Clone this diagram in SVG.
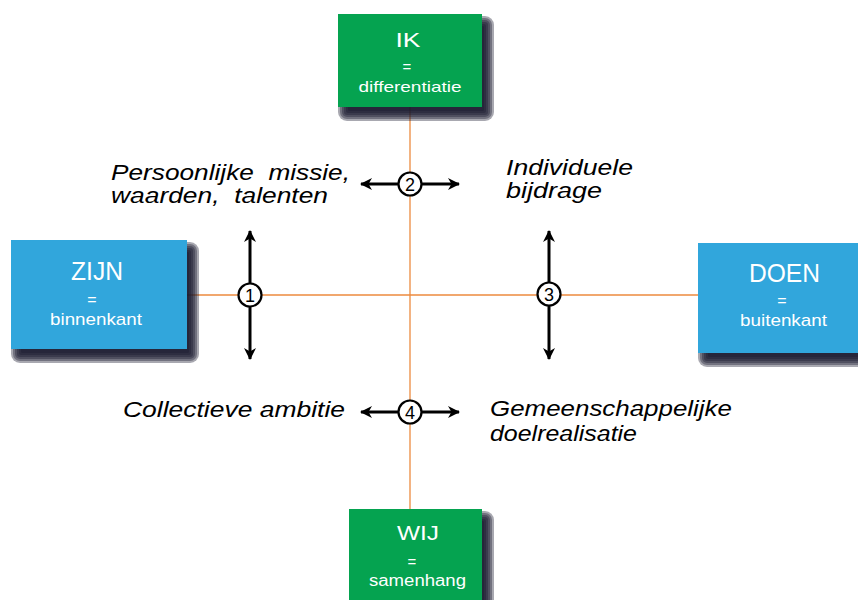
<svg xmlns="http://www.w3.org/2000/svg" width="858" height="600" viewBox="0 0 858 600">
  <defs>
    <marker id="head" viewBox="0 0 12 12" refX="11" refY="6" markerWidth="12" markerHeight="12" markerUnits="userSpaceOnUse" orient="auto-start-reverse">
      <path d="M12,6 L0,0 L3.5,6 L0,12 Z" fill="#000"/>
    </marker>
  </defs>
  <style>
    .green { fill: #05a350; }
    .blue { fill: #31a6dc; }
    .sh { fill: #1b1930; opacity: 0.38; }
    .axis { stroke: #ec8a3e; stroke-width: 1.3; fill: none; }
    .arrow { stroke: #000; stroke-width: 3; fill: none; marker-start: url(#head); marker-end: url(#head); }
    .num { fill: #fff; stroke: #000; stroke-width: 2.2; }
    .numt { font-family: "Liberation Sans", Arial, sans-serif; font-size: 18px; fill: #000; text-anchor: middle; }
    .big { font-family: "Liberation Sans", Arial, sans-serif; fill: #fff; text-anchor: middle; }
    .lbl { font-family: "Liberation Sans", Arial, sans-serif; font-style: italic; font-size: 21.5px; fill: #000; }
  </style>
  <rect width="858" height="600" fill="#fff"/>

  <g id="connectors">
    <line class="axis" x1="410" y1="107" x2="410" y2="509"/>
    <line class="axis" x1="187" y1="295" x2="698" y2="295"/>
    <line class="arrow" x1="361" y1="184" x2="459" y2="184"/>
    <line class="arrow" x1="361" y1="412" x2="459" y2="412"/>
    <line class="arrow" x1="250" y1="231" x2="250" y2="359"/>
    <line class="arrow" x1="549" y1="231" x2="549" y2="359"/>
  </g>

  <g id="marker-1">
    <circle class="num" cx="250" cy="295" r="11.5"/>
    <text class="numt" x="250" y="301.5">1</text>
  </g>
  <g id="marker-2">
    <circle class="num" cx="410" cy="184" r="11.5"/>
    <text class="numt" x="410" y="190.5">2</text>
  </g>
  <g id="marker-3">
    <circle class="num" cx="549" cy="294" r="11.5"/>
    <text class="numt" x="549" y="300.5">3</text>
  </g>
  <g id="marker-4">
    <circle class="num" cx="410" cy="412" r="11.5"/>
    <text class="numt" x="410" y="418.5">4</text>
  </g>

  <g id="node-ik">
    <g class="shadow">
      <rect class="sh" x="348" y="26" width="136" height="85" rx="1"/>
      <rect class="sh" x="346" y="24" width="140" height="89" rx="2"/>
      <rect class="sh" x="344" y="22" width="144" height="93" rx="3"/>
      <rect class="sh" x="342" y="20" width="148" height="97" rx="5"/>
      <rect class="sh" x="340" y="18" width="152" height="101" rx="7"/>
      <rect class="sh" x="338" y="16" width="156" height="105" rx="9"/>
    </g>
    <rect class="green" x="338" y="14" width="144" height="93"/>
    <text class="big" x="408" y="47" font-size="20" textLength="25" lengthAdjust="spacingAndGlyphs">IK</text>
    <text class="big" x="407" y="72" font-size="15">=</text>
    <text class="big" x="410" y="92" font-size="15" textLength="103" lengthAdjust="spacingAndGlyphs">differentiatie</text>
  </g>

  <g id="node-zijn">
    <g class="shadow">
      <rect class="sh" x="21" y="252" width="168" height="101" rx="1"/>
      <rect class="sh" x="19" y="250" width="172" height="105" rx="2"/>
      <rect class="sh" x="17" y="248" width="176" height="109" rx="3"/>
      <rect class="sh" x="15" y="246" width="180" height="113" rx="5"/>
      <rect class="sh" x="13" y="244" width="184" height="117" rx="7"/>
      <rect class="sh" x="11" y="242" width="188" height="121" rx="9"/>
    </g>
    <rect class="blue" x="11" y="240" width="176" height="109"/>
    <text class="big" x="97" y="280" font-size="25" textLength="52" lengthAdjust="spacingAndGlyphs">ZIJN</text>
    <text class="big" x="92" y="305" font-size="16">=</text>
    <text class="big" x="96" y="325" font-size="17" textLength="92" lengthAdjust="spacingAndGlyphs">binnenkant</text>
  </g>

  <g id="node-doen">
    <g class="shadow">
      <rect class="sh" x="708" y="255" width="162" height="102" rx="1"/>
      <rect class="sh" x="706" y="253" width="166" height="106" rx="2"/>
      <rect class="sh" x="704" y="251" width="170" height="110" rx="3"/>
      <rect class="sh" x="702" y="249" width="174" height="114" rx="5"/>
      <rect class="sh" x="700" y="247" width="178" height="118" rx="7"/>
      <rect class="sh" x="698" y="245" width="182" height="122" rx="9"/>
    </g>
    <rect class="blue" x="698" y="243" width="170" height="110"/>
    <text class="big" x="784.5" y="282" font-size="25" textLength="71" lengthAdjust="spacingAndGlyphs">DOEN</text>
    <text class="big" x="782" y="306" font-size="16">=</text>
    <text class="big" x="783.5" y="326" font-size="17" textLength="87" lengthAdjust="spacingAndGlyphs">buitenkant</text>
  </g>

  <g id="node-wij">
    <g class="shadow">
      <rect class="sh" x="359" y="521" width="125" height="92" rx="1"/>
      <rect class="sh" x="357" y="519" width="129" height="96" rx="2"/>
      <rect class="sh" x="355" y="517" width="133" height="100" rx="3"/>
      <rect class="sh" x="353" y="515" width="137" height="104" rx="5"/>
      <rect class="sh" x="351" y="513" width="141" height="108" rx="7"/>
      <rect class="sh" x="349" y="511" width="145" height="112" rx="9"/>
    </g>
    <rect class="green" x="349" y="509" width="133" height="100"/>
    <text class="big" x="418" y="540" font-size="21" textLength="42" lengthAdjust="spacingAndGlyphs">WIJ</text>
    <text class="big" x="412" y="567" font-size="15">=</text>
    <text class="big" x="417.5" y="586" font-size="16" textLength="97" lengthAdjust="spacingAndGlyphs">samenhang</text>
  </g>

  <g id="labels">
    <text class="lbl" x="111" y="180" textLength="239" lengthAdjust="spacingAndGlyphs" xml:space="preserve">Persoonlijke  missie,</text>
    <text class="lbl" x="111" y="203" textLength="217" lengthAdjust="spacingAndGlyphs" xml:space="preserve">waarden,  talenten</text>
    <text class="lbl" x="506" y="175" textLength="127" lengthAdjust="spacingAndGlyphs">Individuele</text>
    <text class="lbl" x="506" y="198" textLength="96" lengthAdjust="spacingAndGlyphs">bijdrage</text>
    <text class="lbl" x="123" y="417" textLength="222" lengthAdjust="spacingAndGlyphs">Collectieve ambitie</text>
    <text class="lbl" x="490" y="416" textLength="242" lengthAdjust="spacingAndGlyphs">Gemeenschappelijke</text>
    <text class="lbl" x="490" y="441" textLength="147" lengthAdjust="spacingAndGlyphs">doelrealisatie</text>
  </g>
</svg>
